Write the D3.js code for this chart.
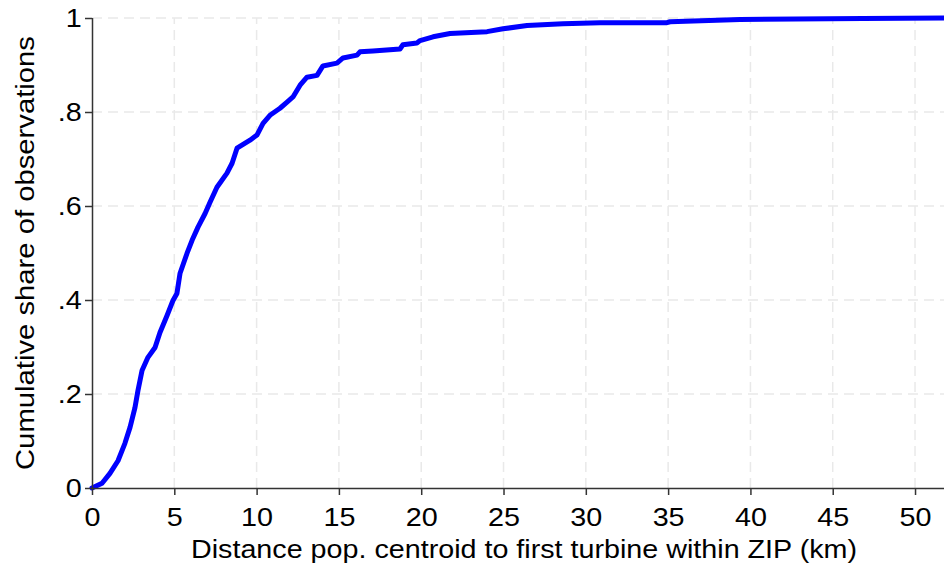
<!DOCTYPE html>
<html>
<head>
<meta charset="utf-8">
<script src="https://cdn.jsdelivr.net/npm/d3@7"></script>
<style>
  html, body { margin: 0; padding: 0; background: #fff; }
  svg { display: block; font-family: "Liberation Sans", Arial, sans-serif; }
</style>
</head>
<body>
<div id="chart"></div>
<script>
// Empirical CDF of distance (km) from population centroid to the first turbine within the ZIP
const distanceKm = [0, 0.61, 1.09, 1.58, 2.00, 2.31, 2.61, 2.79, 3.04, 3.40, 3.83, 4.13, 4.56, 4.92, 5.16, 5.35, 5.77, 6.08, 6.44, 6.87, 7.17, 7.59, 8.20, 8.51, 8.81, 9.60, 10.02, 10.39, 10.81, 11.42, 11.85, 12.21, 12.64, 13.06, 13.67, 14.03, 14.88, 15.25, 16.10, 16.28, 17.07, 18.71, 18.89, 19.74, 19.93, 20.72, 21.75, 24.00, 24.97, 26.43, 28.61, 30.86, 34.93, 35.12, 39.37, 46.84, 51.8];
const cumShare = [0, 0.010, 0.031, 0.058, 0.095, 0.129, 0.171, 0.207, 0.250, 0.278, 0.299, 0.331, 0.367, 0.399, 0.414, 0.457, 0.499, 0.527, 0.555, 0.584, 0.608, 0.640, 0.670, 0.691, 0.723, 0.740, 0.751, 0.776, 0.793, 0.808, 0.821, 0.832, 0.857, 0.874, 0.878, 0.898, 0.904, 0.915, 0.921, 0.928, 0.930, 0.934, 0.943, 0.947, 0.952, 0.960, 0.967, 0.971, 0.977, 0.984, 0.988, 0.990, 0.990, 0.992, 0.997, 0.999, 1.0];

const xTicks = [0, 5, 10, 15, 20, 25, 30, 35, 40, 45, 50];
const yTicks = [0, 0.2, 0.4, 0.6, 0.8, 1];
const yTickLabels = ["0", ".2", ".4", ".6", ".8", "1"];

const xTitle = "Distance pop. centroid to first turbine within ZIP (km)";
const yTitle = "Cumulative share of observations";

const W = 944, H = 570;
const margin = { left: 92, right: 0, top: 18, bottom: 82 };
const FONT = 25;        // glyph height
const STRETCH = 1.15;   // wide text rendering

const svg = d3.select("#chart").append("svg")
  .attr("width", W).attr("height", H);

const x = d3.scaleLinear().domain([0, 51.76]).range([margin.left, W - margin.right]);
const y = d3.scaleLinear().domain([0, 1]).range([H - margin.bottom, margin.top]);

// dashed grid
const grid = svg.append("g").attr("stroke", "#e9e9e9").attr("stroke-width", 1.5)
  .attr("stroke-dasharray", "10,6");
grid.selectAll("line.v").data(xTicks.filter(d => d > 0)).join("line")
  .attr("x1", d => x(d)).attr("x2", d => x(d))
  .attr("y1", y(0)).attr("y2", y(1));
grid.selectAll("line.h").data(yTicks.filter(d => d > 0)).join("line")
  .attr("x1", x(0)).attr("x2", W)
  .attr("y1", d => y(d)).attr("y2", d => y(d));

// the ECDF line
const pts = distanceKm.map((d, i) => [d, cumShare[i]]);
svg.append("path")
  .datum(pts)
  .attr("fill", "none")
  .attr("stroke", "#0000ff")
  .attr("stroke-width", 5)
  .attr("stroke-linejoin", "round")
  .attr("stroke-linecap", "round")
  .attr("d", d3.line().x(d => x(d[0])).y(d => y(d[1])));

// axes
const xAxis = d3.axisBottom(x).tickValues(xTicks).tickFormat(d3.format("d")).tickSize(7).tickPadding(13);
const yAxis = d3.axisLeft(y).tickValues(yTicks).tickFormat((d, i) => yTickLabels[i]).tickSize(7).tickPadding(2);

const gx = svg.append("g").attr("transform", `translate(0,${y(0)})`).call(xAxis);
const gy = svg.append("g").attr("transform", `translate(${x(0)},0)`).call(yAxis);

[gx, gy].forEach(g => {
  g.select(".domain").attr("stroke", "#333").attr("stroke-width", 1.5);
  g.selectAll(".tick line").attr("stroke", "#333").attr("stroke-width", 1.5);
  g.selectAll(".tick text").attr("fill", "#000").style("font-size", FONT + "px")
    .style("font-family", "'Liberation Sans', Arial, sans-serif")
    .attr("transform", `scale(${STRETCH},1)`);
});
gx.select(".domain").attr("d", `M${x(0)},0.5H${W}`);
gy.select(".domain").attr("d", `M0.5,${y(0)}V${y(1)}`);

svg.append("text")
  .attr("x", 524).attr("y", 558)
  .attr("text-anchor", "middle")
  .attr("textLength", 666)
  .attr("lengthAdjust", "spacingAndGlyphs")
  .style("font-size", FONT + "px")
  .text(xTitle);

svg.append("text")
  .attr("transform", `translate(34,${(y(0) + y(1)) / 2}) rotate(-90)`)
  .attr("text-anchor", "middle")
  .attr("textLength", 434)
  .attr("lengthAdjust", "spacingAndGlyphs")
  .style("font-size", FONT + "px")
  .text(yTitle);
</script>
</body>
</html>
